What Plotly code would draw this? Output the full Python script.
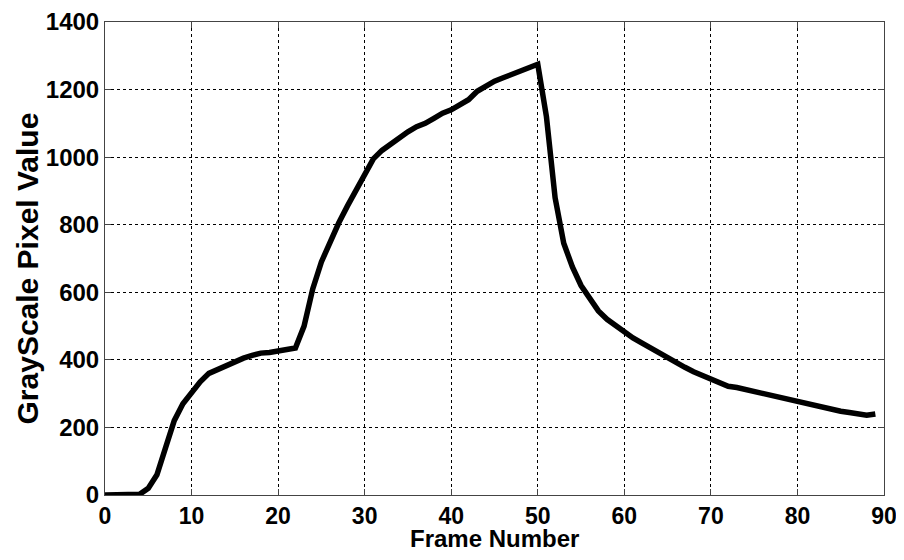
import plotly.graph_objects as go

frames = list(range(90))
gray_values = [0, 0, 0, 0, 2, 20, 60, 140, 220, 270,
               305, 335, 360, 372, 385, 395, 405, 413, 420, 422,
               425, 430, 435, 500, 610, 690, 750, 805, 855, 900,
               950, 995, 1020, 1040, 1060, 1075, 1090, 1100, 1115, 1130,
               1140, 1155, 1170, 1195, 1210, 1225, 1235, 1245, 1255, 1265,
               1275, 1120, 880, 745, 675, 620, 580, 545, 520, 500,
               482, 465, 450, 435, 420, 405, 392, 378, 365, 355,
               345, 335, 322, 318, 312, 305, 300, 294, 288, 282,
               277, 268, 263, 258, 253, 248, 244, 238, 236, 240]
x_ticks = [0, 10, 20, 30, 40, 50, 60, 70, 80, 90]
y_ticks = [0, 200, 400, 600, 800, 1000, 1200, 1400]

fig = go.Figure()
fig.add_trace(go.Scatter(x=frames, y=gray_values, mode="lines",
                         line=dict(color="black", width=5.5), showlegend=False))

fam = "Liberation Sans, Arial, sans-serif"
axis_common = dict(showgrid=True, gridcolor="black", griddash="dot", gridwidth=1,
                   showline=True, linecolor="#444", linewidth=1, mirror="ticks",
                   ticks="inside", ticklen=6, tickcolor="#444", automargin=False,
                   zeroline=False, ticklabeloverflow="allow")

fig.update_xaxes(range=[0, 90], tickvals=x_ticks,
                 tickfont=dict(family=fam, size=23, color="black"),
                 ticktext=[f"<b>{v}</b>" for v in x_ticks], ticklabelstandoff=0, **axis_common)
fig.update_yaxes(range=[0, 1400], tickvals=y_ticks,
                 tickfont=dict(family=fam, size=24, color="black"),
                 ticktext=[f"<b>{v}</b>" for v in y_ticks], ticklabelstandoff=0, **axis_common)

fig.add_annotation(text="<b>Frame Number</b>", showarrow=False,
                   xref="paper", yref="paper", x=0.5, y=0, xanchor="center", yanchor="middle",
                   yshift=-43, font=dict(family=fam, size=24, color="black"))
fig.add_annotation(text="<b>GrayScale Pixel Value</b>", textangle=-90, showarrow=False,
                   xref="paper", yref="paper", x=0, y=0.5, xanchor="center", yanchor="middle",
                   xshift=-78, yshift=-10, font=dict(family=fam, size=30, color="black"))

# page body has an 8px default margin, so the figure is sized to fit inside it
fig.update_layout(width=888, height=544, margin=dict(l=97, r=12, t=14, b=57),
                  plot_bgcolor="white", paper_bgcolor="white")
fig.write_html("out.html")
